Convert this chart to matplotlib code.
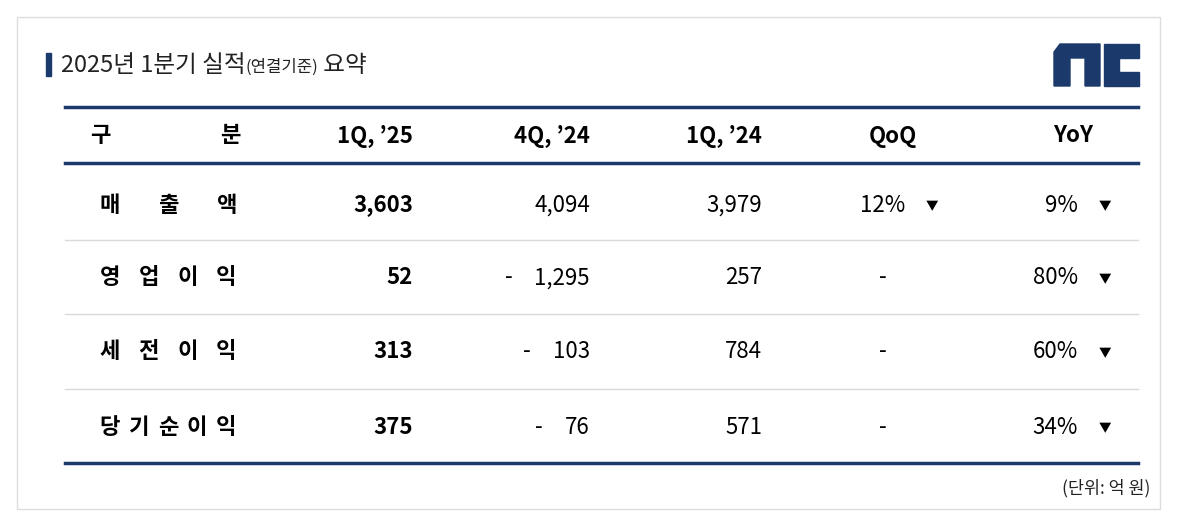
import matplotlib.pyplot as plt
from matplotlib.patches import Rectangle, Polygon

plt.rcParams['font.family'] = ['Noto Sans CJK KR', 'DejaVu Sans']

# 표 데이터 (단위: 억 원)
title = "2025년 1분기 실적"
title_sub = "(연결기준)"
title_end = " 요약"
headers = ["1Q, \u201925", "4Q, \u201924", "1Q, \u201924", "QoQ", "YoY"]
row_labels = ["매출액", "영업이익", "세전이익", "당기순이익"]
spread_labels = [True, True, True, False]
q1_25 = ["3,603", "52", "313", "375"]
q4_24 = ["4,094", "1,295", "103", "76"]
q4_24_neg = [False, True, True, True]
q1_24 = ["3,979", "257", "784", "571"]
qoq = ["12%", None, None, None]
yoy = ["9%", "80%", "60%", "34%"]
unit_note = "(단위: 억 원)"

navy = "#1b3a6b"
W, H = 1200, 518
fig = plt.figure(figsize=(W / 100, H / 100), dpi=100)
ax = fig.add_axes([0, 0, 1, 1])
ax.set_xlim(0, W)
ax.set_ylim(H, 0)
ax.axis("off")

# 바깥 테두리
ax.add_patch(Rectangle((17, 17), 1143, 492, fill=False, ec="#dddddd", lw=1))

# 제목
ax.add_patch(Rectangle((46, 53), 5, 23, color=navy))
t = ax.text(61, 65, title, fontsize=17, va="center", color="#222222")
fig.canvas.draw()
bb = t.get_window_extent().transformed(ax.transData.inverted())
t2 = ax.text(bb.x1, 67, title_sub, fontsize=12, va="center", color="#222222")
fig.canvas.draw()
bb2 = t2.get_window_extent().transformed(ax.transData.inverted())
ax.text(bb2.x1, 65, title_end, fontsize=17, va="center", color="#222222")

# nc 로고
ax.add_patch(Polygon([(1054, 52), (1060, 44), (1100, 44), (1100, 86), (1085, 86),
                      (1085, 58), (1070, 58), (1070, 86), (1054, 86)], color=navy))
ax.add_patch(Polygon([(1104, 44), (1139, 44), (1139, 58), (1119, 58), (1119, 72),
                      (1139, 72), (1139, 86), (1104, 86)], color=navy))

# 선
x0, x1 = 65, 1138
ax.plot([x0, x1], [107, 107], color=navy, lw=2.5)
ax.plot([x0, x1], [163, 163], color=navy, lw=2.5)
ax.plot([x0, x1], [463, 463], color=navy, lw=2.5)
for y in [240, 314, 389]:
    ax.plot([x0, x1], [y, y], color="#d9d9d9", lw=1)

fs = 16
hy = 136
ax.text(100, hy, "구", fontsize=fs, fontweight="bold", ha="center", va="center")
ax.text(230, hy, "분", fontsize=fs, fontweight="bold", ha="center", va="center")
col_right = [413, 590, 762]
for xr, h in zip(col_right, headers[:3]):
    ax.text(xr, hy, h, fontsize=fs, fontweight="bold", ha="right", va="center")
ax.text(893, hy, headers[3], fontsize=fs, fontweight="bold", ha="center", va="center")
ax.text(1073, hy, headers[4], fontsize=fs, fontweight="bold", ha="center", va="center")

row_y = [205, 278, 352, 427]
for i, y in enumerate(row_y):
    lab = row_labels[i]
    n = len(lab)
    if spread_labels[i]:
        xs = [110 + k * (116 / (n - 1)) for k in range(n)]
    else:
        xs = [110 + k * 29 for k in range(n)]
    for x, ch in zip(xs, lab):
        ax.text(x, y, ch, fontsize=fs, fontweight="bold", ha="center", va="center")
    ax.text(col_right[0], y, q1_25[i], fontsize=fs, fontweight="bold", ha="right", va="center")
    v = ax.text(col_right[1], y, q4_24[i], fontsize=fs, ha="right", va="center")
    if q4_24_neg[i]:
        fig.canvas.draw()
        vb = v.get_window_extent().transformed(ax.transData.inverted())
        ax.text(vb.x0 - 22, y, "-", fontsize=fs, ha="right", va="center")
    ax.text(col_right[2], y, q1_24[i], fontsize=fs, ha="right", va="center")
    if qoq[i] is None:
        ax.text(883, y, "-", fontsize=fs, ha="center", va="center")
    else:
        ax.text(905, y, qoq[i], fontsize=fs, ha="right", va="center")
        ax.text(932, y + 2, "▼", fontsize=9, ha="center", va="center")
    ax.text(1078, y, yoy[i], fontsize=fs, ha="right", va="center")
    ax.text(1105, y + 2, "▼", fontsize=9, ha="center", va="center")

ax.text(1150, 488, unit_note, fontsize=12.5, ha="right", va="center", color="#222222")

fig.savefig("out.png", dpi=100)
